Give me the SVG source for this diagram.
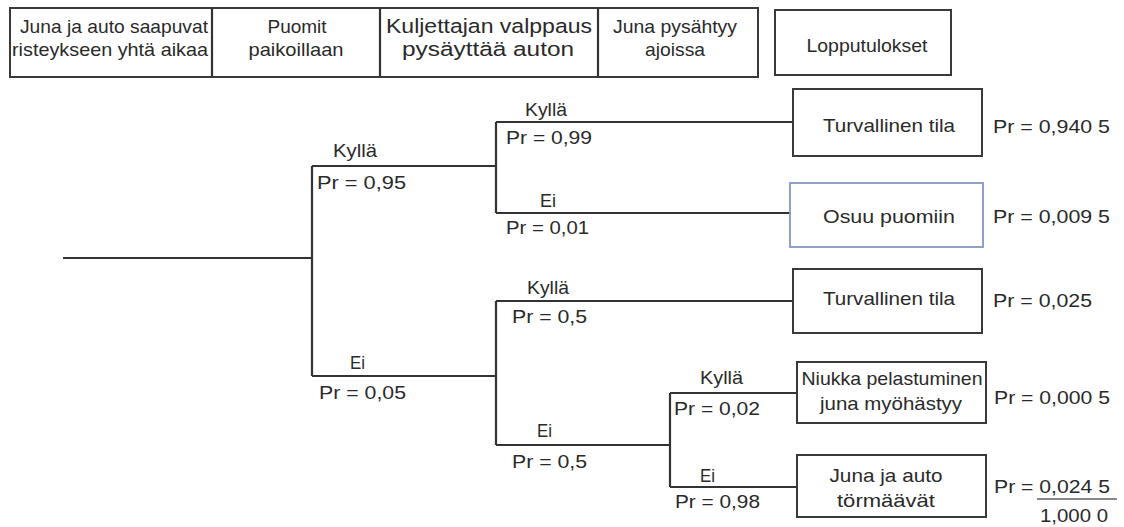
<svg xmlns="http://www.w3.org/2000/svg" width="1124" height="527" viewBox="0 0 1124 527">
<style>
text{font-family:"Liberation Sans",Arial,sans-serif;font-size:19px;fill:#2a2a2a}
.m{text-anchor:middle}
.box{fill:#fff;stroke:#3a3a3a;stroke-width:2}
.blue{fill:#fff;stroke:#8496c2;stroke-width:1.8}
.ln{fill:none;stroke:#333;stroke-width:2.2}
.w{font-size:20.5px}
</style>
<rect width="1124" height="527" fill="#fff"/>
<g id="header">
<rect x="10" y="8" width="748" height="69" class="box" stroke-width="2.5"/>
<line x1="212" y1="8" x2="212" y2="77" class="ln"/>
<line x1="380" y1="8" x2="380" y2="77" class="ln"/>
<line x1="598" y1="8" x2="598" y2="77" class="ln"/>
<text x="114" y="33" class="m" textLength="188" lengthAdjust="spacingAndGlyphs">Juna ja auto saapuvat</text>
<text x="110" y="56" class="m" textLength="196" lengthAdjust="spacingAndGlyphs">risteykseen yhtä aikaa</text>
<text x="297" y="33" class="m" textLength="59" lengthAdjust="spacingAndGlyphs">Puomit</text>
<text x="296" y="56" class="m" textLength="95" lengthAdjust="spacingAndGlyphs">paikoillaan</text>
<text x="489" y="33" class="m w" textLength="206" lengthAdjust="spacingAndGlyphs">Kuljettajan valppaus</text>
<text x="488" y="56" class="m w" textLength="172" lengthAdjust="spacingAndGlyphs">pysäyttää auton</text>
<text x="675" y="33" class="m" textLength="124" lengthAdjust="spacingAndGlyphs">Juna pysähtyy</text>
<text x="675" y="56" class="m" textLength="60" lengthAdjust="spacingAndGlyphs">ajoissa</text>
</g>
<g id="lopputulokset">
<rect x="775" y="10" width="176" height="65" class="box"/>
<text x="867" y="52" class="m" textLength="121" lengthAdjust="spacingAndGlyphs">Lopputulokset</text>
</g>
<g id="connectors">
<path class="ln" d="M63 258H312M312 166V376M312 166H496M312 376H496M496 122V213M496 122H793M496 213H790M496 301V445M496 301H793M496 445H670M670 393V487M670 393H797M670 487H797"/>
</g>
<g id="branch-labels">
<text x="333" y="157" textLength="44" lengthAdjust="spacingAndGlyphs">Kyllä</text>
<text x="317" y="189" textLength="89" lengthAdjust="spacingAndGlyphs">Pr = 0,95</text>
<text x="525" y="116" textLength="42" lengthAdjust="spacingAndGlyphs">Kyllä</text>
<text x="506" y="144" textLength="86" lengthAdjust="spacingAndGlyphs">Pr = 0,99</text>
<text x="540" y="207" textLength="16" lengthAdjust="spacingAndGlyphs">Ei</text>
<text x="506" y="234" textLength="83" lengthAdjust="spacingAndGlyphs">Pr = 0,01</text>
<text x="350" y="369" textLength="15" lengthAdjust="spacingAndGlyphs">Ei</text>
<text x="319" y="399" textLength="87" lengthAdjust="spacingAndGlyphs">Pr = 0,05</text>
<text x="527" y="294" textLength="42" lengthAdjust="spacingAndGlyphs">Kyllä</text>
<text x="512" y="323" textLength="75" lengthAdjust="spacingAndGlyphs">Pr = 0,5</text>
<text x="537" y="437" textLength="15" lengthAdjust="spacingAndGlyphs">Ei</text>
<text x="512" y="468" textLength="75" lengthAdjust="spacingAndGlyphs">Pr = 0,5</text>
<text x="700" y="384" textLength="43" lengthAdjust="spacingAndGlyphs">Kyllä</text>
<text x="674" y="415" textLength="86" lengthAdjust="spacingAndGlyphs">Pr = 0,02</text>
<text x="700" y="482" textLength="15" lengthAdjust="spacingAndGlyphs">Ei</text>
<text x="675" y="508" textLength="85" lengthAdjust="spacingAndGlyphs">Pr = 0,98</text>
</g>
<g id="outcome1">
<rect x="793" y="89" width="189" height="67" class="box"/>
<text x="889" y="132" class="m" textLength="132" lengthAdjust="spacingAndGlyphs">Turvallinen tila</text>
<text x="993" y="133" textLength="117" lengthAdjust="spacingAndGlyphs">Pr = 0,940 5</text>
</g>
<g id="outcome2">
<rect x="790" y="183" width="193" height="64" class="blue"/>
<text x="889" y="223" class="m" textLength="132" lengthAdjust="spacingAndGlyphs">Osuu puomiin</text>
<text x="993" y="223" textLength="117" lengthAdjust="spacingAndGlyphs">Pr = 0,009 5</text>
</g>
<g id="outcome3">
<rect x="793" y="269" width="189" height="64" class="box"/>
<text x="889" y="305" class="m" textLength="132" lengthAdjust="spacingAndGlyphs">Turvallinen tila</text>
<text x="993" y="307" textLength="99" lengthAdjust="spacingAndGlyphs">Pr = 0,025</text>
</g>
<g id="outcome4">
<rect x="797" y="362" width="189" height="61" class="box"/>
<text x="892" y="385" class="m" textLength="181" lengthAdjust="spacingAndGlyphs">Niukka pelastuminen</text>
<text x="891" y="410" class="m" textLength="142" lengthAdjust="spacingAndGlyphs">juna myöhästyy</text>
<text x="994" y="404" textLength="116" lengthAdjust="spacingAndGlyphs">Pr = 0,000 5</text>
</g>
<g id="outcome5">
<rect x="797" y="455" width="189" height="62" class="box"/>
<text x="886" y="482" class="m" textLength="113" lengthAdjust="spacingAndGlyphs">Juna ja auto</text>
<text x="886" y="507" class="m" textLength="98" lengthAdjust="spacingAndGlyphs">törmäävät</text>
<text x="994" y="493" textLength="116" lengthAdjust="spacingAndGlyphs">Pr = 0,024 5</text>
<line x1="1037" y1="499" x2="1117" y2="499" stroke="#888" stroke-width="2"/>
<text x="1040" y="522" textLength="68" lengthAdjust="spacingAndGlyphs">1,000 0</text>
</g>
</svg>
